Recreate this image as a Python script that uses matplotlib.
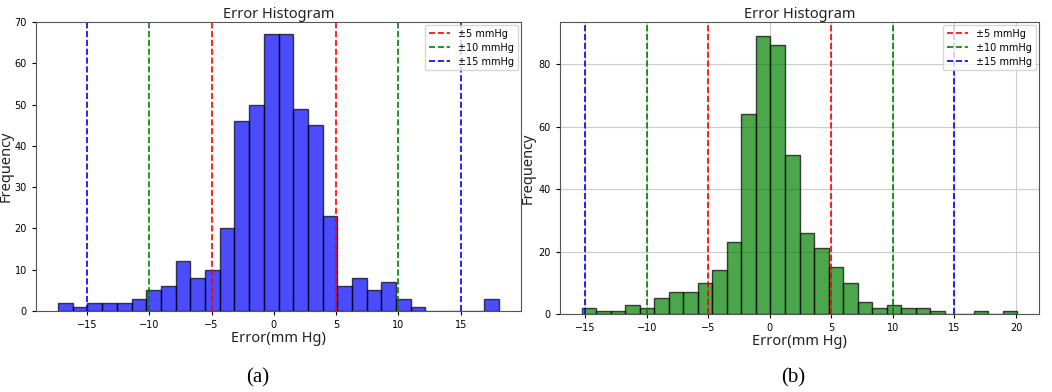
import numpy as np
import matplotlib as mpl
mpl.use('Agg')
from matplotlib import pyplot as plt

# bin edges and counts (30 bins each)
edges_a = np.linspace(-17.33, 18.07, 31)
counts_a = [2, 1, 2, 2, 2, 3, 5, 6, 12, 8, 10, 20, 46, 50, 67,
            67, 49, 45, 23, 6, 8, 5, 7, 3, 1, 0, 0, 0, 0, 3]

edges_b = np.linspace(-15.28, 20.10, 31)
counts_b = [2, 1, 1, 3, 2, 5, 7, 7, 10, 14, 23, 64, 89, 86, 51,
            26, 21, 15, 10, 4, 2, 3, 2, 2, 1, 0, 0, 1, 0, 1]

limits = [5, 10, 15]
limit_colors = ['red', 'green', 'blue']
limit_labels = ['±5 mmHg', '±10 mmHg', '±15 mmHg']

fig = plt.figure(figsize=(10.52, 3.92), dpi=100)
ax1 = fig.add_axes([36 / 1052, 1 - 311 / 392, (521 - 36) / 1052, (311 - 22) / 392])
ax2 = fig.add_axes([560 / 1052, 1 - 314 / 392, (1039 - 560) / 1052, (314 - 22) / 392])

lab_font = dict(fontsize=10.5, family='Noto Sans', color='#222222')


def draw(ax, edges, counts, color, grid):
    centers = (edges[:-1] + edges[1:]) / 2
    ax.hist(centers, bins=edges, weights=counts, color=color, alpha=0.7,
            edgecolor='black', linewidth=1)
    for v, c, lab in zip(limits, limit_colors, limit_labels):
        ax.axvline(-v, color=c, linestyle='--', linewidth=1.2, label=lab)
        ax.axvline(v, color=c, linestyle='--', linewidth=1.2)
    ax.set_title('Error Histogram', pad=2, **lab_font)
    ax.set_xlabel('Error(mm Hg)', labelpad=1, **lab_font)
    ax.set_ylabel('Frequency', **lab_font)
    ax.tick_params(labelsize=7, length=3)
    ax.legend(loc='upper right', fontsize=7, handlelength=2.2,
              borderaxespad=0.3, labelspacing=0.4, framealpha=0.8)
    for s in ax.spines.values():
        s.set_color('#555555')
    if grid:
        ax.grid(True, color='#cccccc', linewidth=0.8)
        ax.set_axisbelow(True)


draw(ax1, edges_a, counts_a, 'blue', False)
ax1.set_ylim(0, 70)
ax1.set_xticks([-15, -10, -5, 0, 5, 10, 15])
ax1.yaxis.set_label_coords(-0.046, 0.5)

draw(ax2, edges_b, counts_b, 'green', True)
ax2.set_yticks([0, 20, 40, 60, 80])
ax2.set_xticks([-15, -10, -5, 0, 5, 10, 15, 20])
ax2.yaxis.set_label_coords(-0.05, 0.5)

fig.text(258 / 1052, 1 - 378 / 392, '(a)', ha='center', va='center',
         fontsize=15, family='Liberation Serif')
fig.text(793 / 1052, 1 - 378 / 392, '(b)', ha='center', va='center',
         fontsize=15, family='Liberation Serif')

fig.savefig('out.png', dpi=100)
